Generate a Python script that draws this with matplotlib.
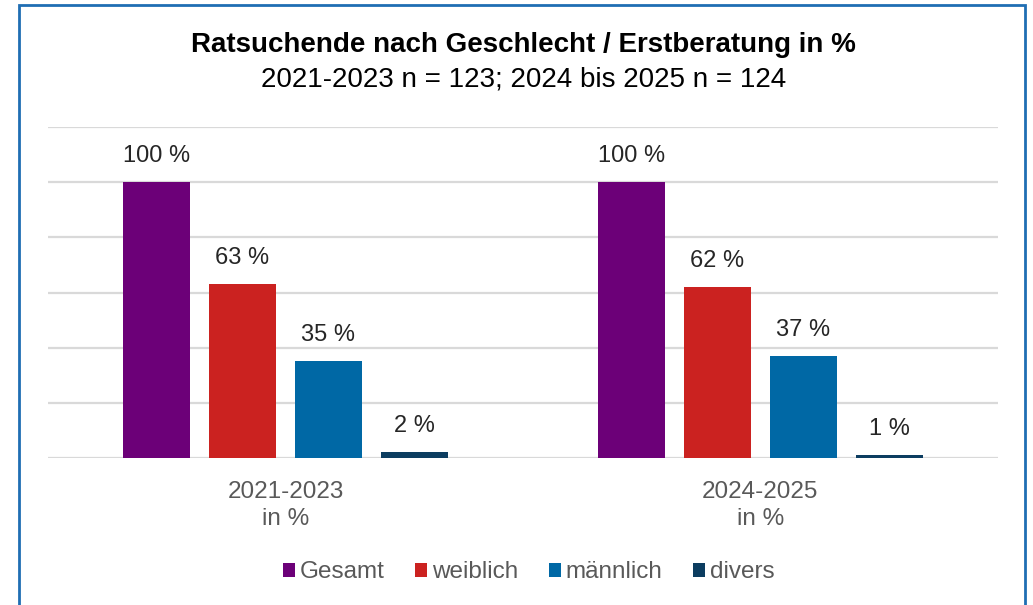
import matplotlib.pyplot as plt
import numpy as np
from matplotlib.patches import Rectangle

# Data
categories = ["2021-2023\nin %", "2024-2025\nin %"]
series = ["Gesamt", "weiblich", "männlich", "divers"]
gesamt = [100, 100]
weiblich = [63, 62]
maennlich = [35, 37]
divers = [2, 1]
colors = ["#6c0078", "#cb2220", "#0068a5", "#0c3d60"]

plt.rcParams['font.family'] = ['Liberation Sans', 'DejaVu Sans']

fig = plt.figure(figsize=(10.33, 6.05), dpi=100)
ax = fig.add_axes([0.0465, 0.243, 0.9195, 0.547])

x = np.arange(len(categories))
width = 0.141
pitch = 0.181
values = [gesamt, weiblich, maennlich, divers]
for i, (name, vals) in enumerate(zip(series, values)):
    pos = x + (i - 1.5) * pitch
    bars = ax.bar(pos, vals, width, color=colors[i], label=name, zorder=3)
    for b, v in zip(bars, vals):
        ax.annotate(f"{v} %", (b.get_x() + b.get_width() / 2, v),
                    xytext=(0, 11), textcoords="offset points",
                    ha="center", va="bottom", fontsize=17, color="#262626")

ax.set_xlim(-0.5, 1.5)
ax.set_ylim(0, 120)
ax.set_yticks(np.arange(0, 121, 20))
ax.yaxis.grid(True, color="#d9d9d9", lw=1.6, zorder=0)
ax.tick_params(axis="y", left=False, labelleft=False)
ax.tick_params(axis="x", bottom=False, pad=13)
ax.set_xticks(x)
ax.set_xticklabels(categories, fontsize=17.5, color="#595959", linespacing=1.3)
for s in ax.spines.values():
    s.set_visible(False)

fig.text(0.507, 0.925, "Ratsuchende nach Geschlecht / Erstberatung in %",
         ha="center", va="center", fontsize=20, fontweight="bold", color="black")
fig.text(0.507, 0.869, "2021-2023 n = 123; 2024 bis 2025 n = 124",
         ha="center", va="center", fontsize=20, color="black")

fig.legend(loc="center", bbox_to_anchor=(0.512, 0.054), ncol=4, frameon=False,
           fontsize=17.5, labelcolor="#595959", handlelength=0.5, handleheight=0.5,
           handletextpad=0.2, columnspacing=1.25)

fig.patches.append(Rectangle((18.5 / 1033, -0.05), (1025 - 18.5) / 1033, 1.05 - 5.5 / 605,
                             transform=fig.transFigure, fill=False,
                             edgecolor="#1f6eb3", lw=2, figure=fig))

fig.savefig("out.png", dpi=100)
